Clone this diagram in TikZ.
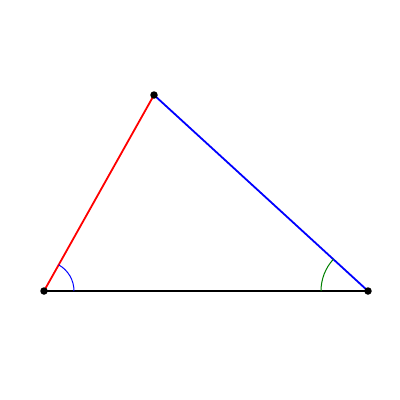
\documentclass[tikz,border=0pt]{standalone}
\usetikzlibrary{calc}
\begin{document}
\begin{tikzpicture}[x=1pt,y=-1pt,
  side/.style={line width=1.8pt},
  anglearc/.style={line width=1pt},
  vertex/.style={circle,fill=black,inner sep=0pt,minimum size=7.5pt}]
\useasboundingbox (0,0) rectangle (400,400);
\coordinate (A) at (44,291);
\coordinate (B) at (154,95);
\coordinate (C) at (368,291);
\draw[side,red] (A) -- (B);
\draw[side,blue] (B) -- (C);
\draw[side,black] (A) -- (C);
\draw[anglearc,blue] ($(A)+(30,0)$) arc[start angle=0,end angle=-60.7,radius=30];
\draw[anglearc,black!50!green] ($(C)+(-47,0)$) arc[start angle=180,end angle=222.5,radius=47];
\node[vertex] (a) at (A) {};
\node[vertex] (b) at (B) {};
\node[vertex] (c) at (C) {};
\end{tikzpicture}
\end{document}
